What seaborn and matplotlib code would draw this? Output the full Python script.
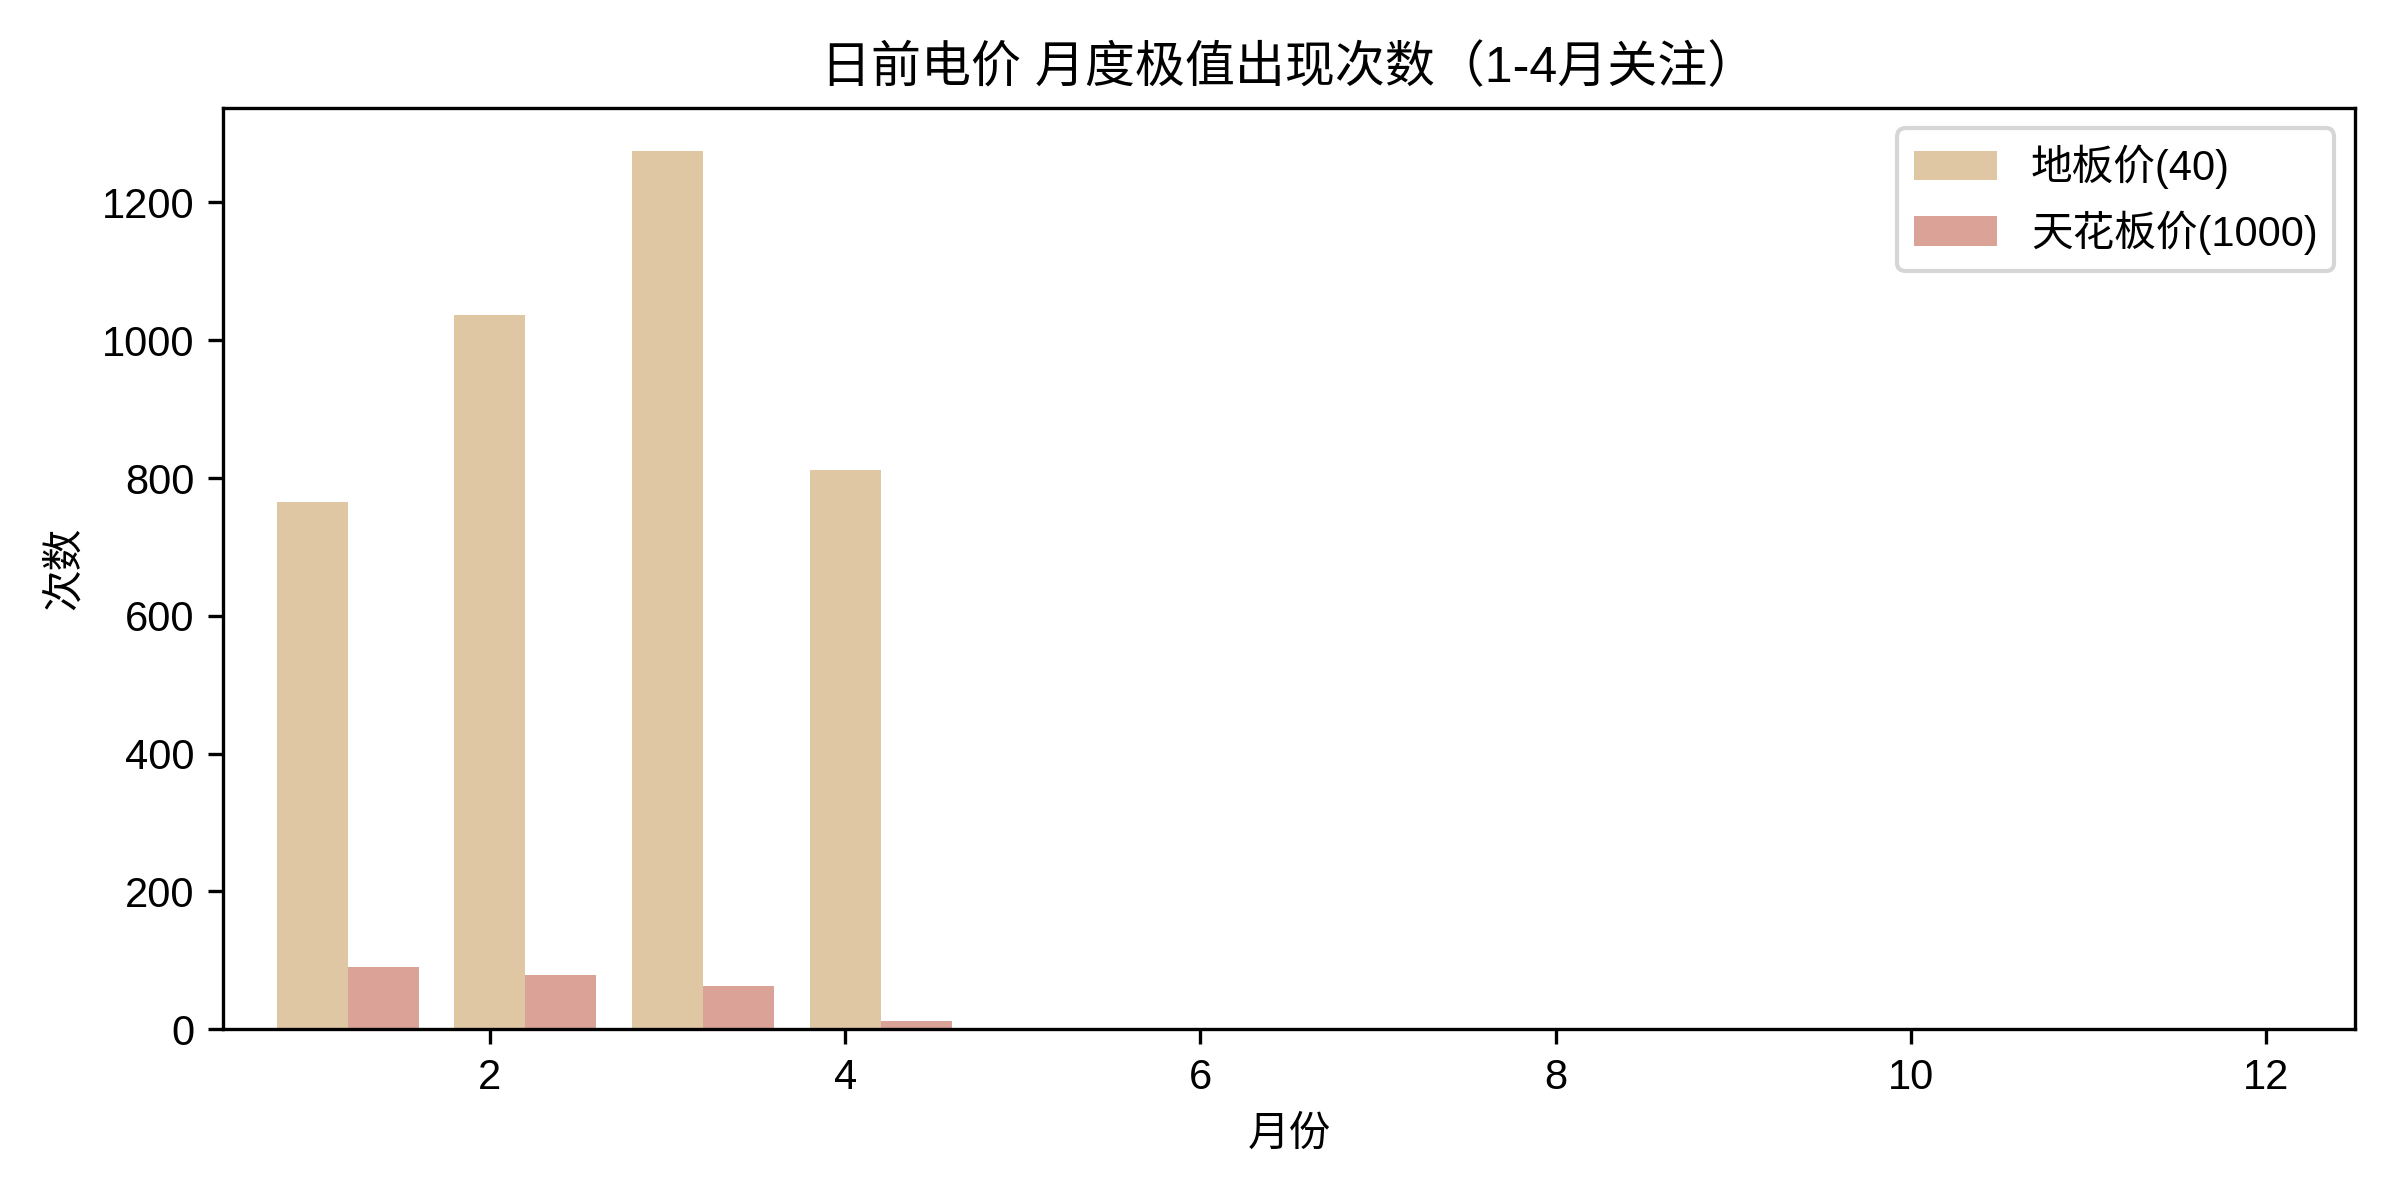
import numpy as np
import matplotlib
matplotlib.use("Agg")
import matplotlib.pyplot as plt
import seaborn as sns

# 月份与极值出现次数
months = np.arange(1, 13)
floor_counts = [765, 1036, 1274, 812, 0, 0, 0, 0, 0, 0, 0, 0]     # 地板价(40)
ceiling_counts = [90, 79, 63, 12, 0, 0, 0, 0, 0, 0, 0, 0]         # 天花板价(1000)
series_labels = ["地板价(40)", "天花板价(1000)"]
series_colors = ["#DFC7A3", "#DBA398"]

plt.rcParams['font.family'] = ['Liberation Sans', 'Noto Sans CJK SC']
plt.rcParams['axes.unicode_minus'] = False

bar_w = 0.4
fig, ax = plt.subplots(figsize=(8, 4), dpi=300)

# 地板价柱子居中在月份上, 天花板价紧挨在右侧
sns.barplot(x=months, y=floor_counts, native_scale=True, width=bar_w,
            color=series_colors[0], saturation=1, linewidth=0,
            errorbar=None, label=series_labels[0], ax=ax)
sns.barplot(x=months + bar_w, y=ceiling_counts, native_scale=True, width=bar_w,
            color=series_colors[1], saturation=1, linewidth=0,
            errorbar=None, label=series_labels[1], ax=ax)

ax.set_xlim(0.5, 12.5)
ax.set_xticks([2, 4, 6, 8, 10, 12])
ax.set_xticklabels(["2", "4", "6", "8", "10", "12"])
ax.tick_params(labelsize=10)
ax.set_xlabel("月份", fontsize=10)
ax.set_ylabel("次数", fontsize=10)
ax.set_title("日前电价 月度极值出现次数（1-4月关注）", fontsize=12)
ax.legend(loc="upper right", fontsize=10)

plt.tight_layout()
plt.savefig("out.png", dpi=300)
